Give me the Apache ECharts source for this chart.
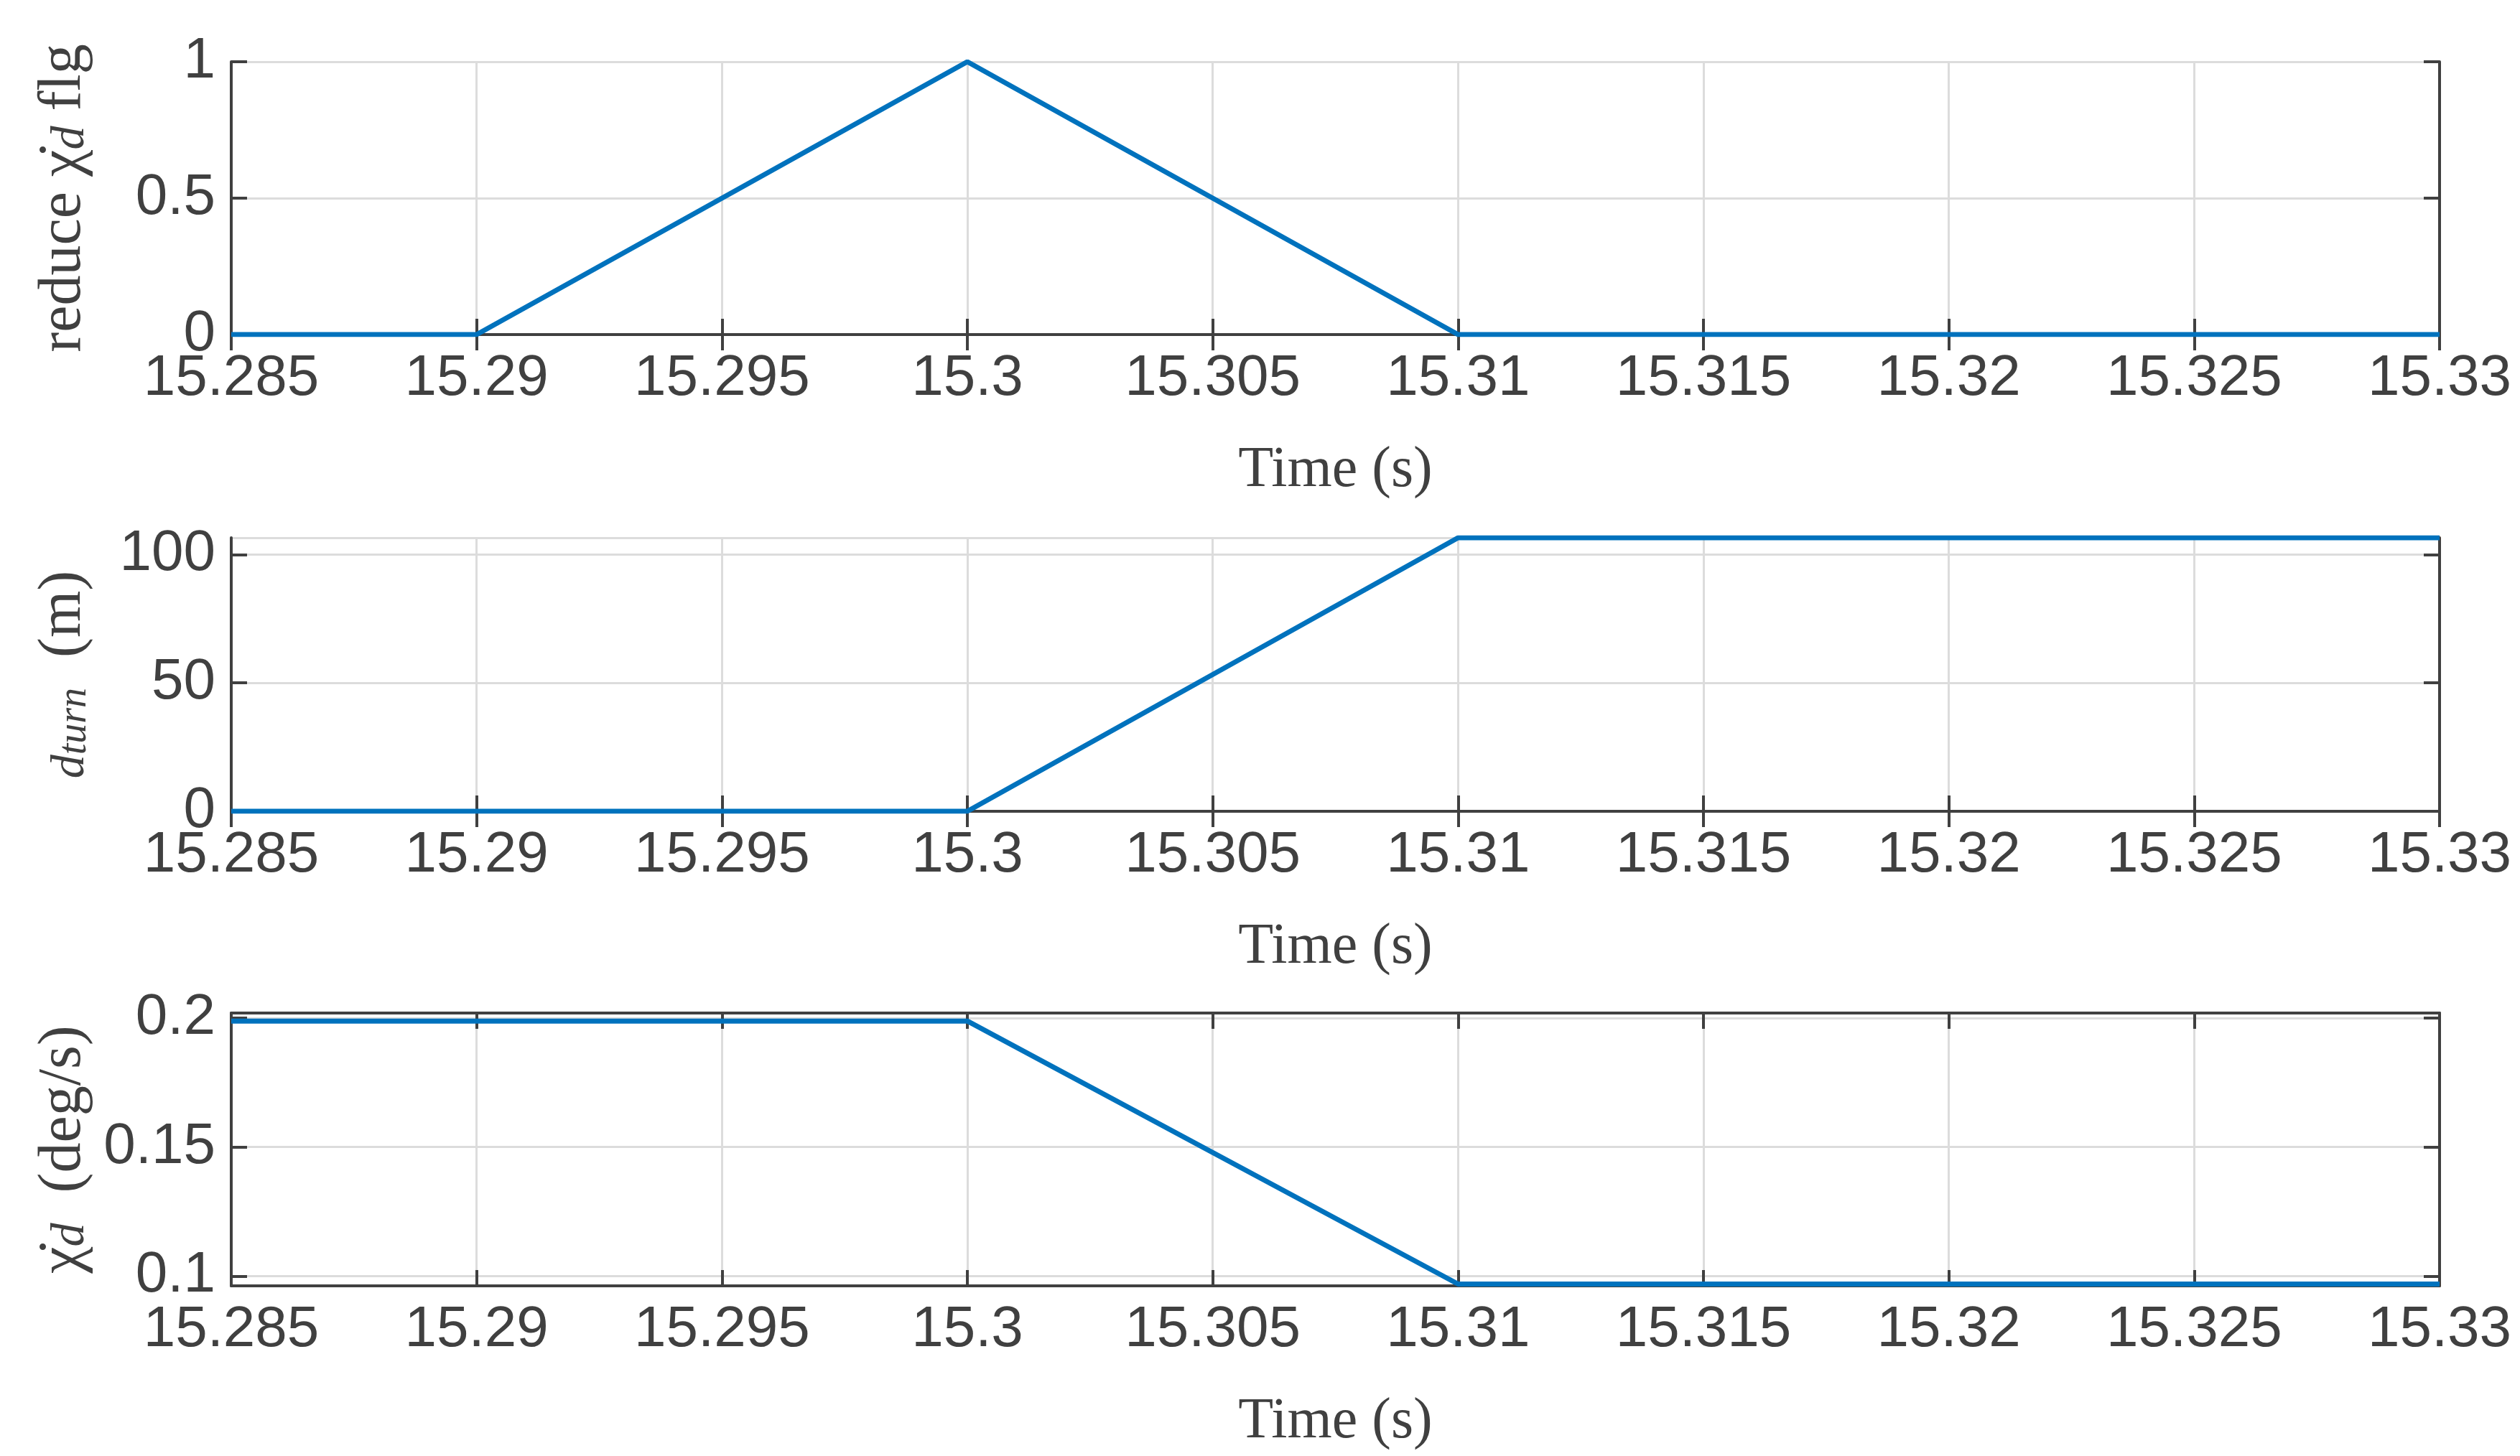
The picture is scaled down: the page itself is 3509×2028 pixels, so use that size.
<!DOCTYPE html>
<html>
<head>
<meta charset="utf-8">
<script src="https://cdn.jsdelivr.net/npm/echarts@6.0.0/dist/echarts.min.js"></script>
<style>
  html, body { margin: 0; padding: 0; background: #fff; }
  #chart { width: 3509px; height: 2028px; }
</style>
</head>
<body>
<div id="chart"></div>
<script>
// data
const timeFlg = [15.285, 15.29, 15.3, 15.31, 15.33];
const flgValues = [0, 0, 1, 0, 0];
const timeTurn = [15.285, 15.3, 15.31, 15.33];
const turnValues = [0, 0, 106.5, 106.5];
const timeChi = [15.285, 15.3, 15.31, 15.33];
const chiValues = [0.1988, 0.1988, 0.0969, 0.0969];

const xMin = 15.285, xMax = 15.33, xStep = 0.005;

const ink = '#404040';
const tickFont = 'Liberation Sans, Arial, sans-serif';
const mathFont = 'Liberation Serif, DejaVu Serif, serif';

const grids = [
  { left: 322, right: 112, top: 86, height: 380 },
  { left: 322, right: 112, top: 749, height: 381 },
  { left: 322, right: 112, top: 1411, height: 380 }
];

function pair(arrX, arrY) { return arrX.map((x, i) => [x, arrY[i]]); }

const xAxes = [], yAxes = [];
const yCfg = [
  { min: 0, max: 1, interval: 0.5, name: '{n|reduce χ̇}{s|d}{n| flg}', minL: true, maxL: true },
  { min: 0, max: 106.5, splitNumber: 2, name: '{s|d}{ss|turn}{n|  (m)}', minL: true, maxL: false },
  { min: 0.0962, max: 0.2019, splitNumber: 2, name: '{n|χ̇}{s|d}{n|  (deg/s)}', minL: false, maxL: false }
];

const frameLine = { show: true, lineStyle: { color: ink, width: 4 } };
const frameTick = { show: true, inside: true, length: 22, lineStyle: { color: ink, width: 4 } };

grids.forEach((g, i) => {
  xAxes.push({
    gridIndex: i, type: 'value', min: xMin, max: xMax, interval: xStep,
    position: 'bottom',
    axisLine: frameLine, axisTick: frameTick,
    splitLine: { show: true, lineStyle: { color: '#dcdcdc', width: 3 } },
    axisLabel: {
      color: ink, fontFamily: tickFont, fontSize: 80, margin: 22,
      formatter: v => String(+v.toFixed(3))
    },
    name: 'Time (s)', nameLocation: 'middle', nameGap: 150,
    nameTextStyle: { color: ink, fontFamily: mathFont, fontSize: 80 }
  });
  xAxes.push({
    gridIndex: i, type: 'value', min: xMin, max: xMax, interval: xStep,
    position: 'top',
    axisLine: frameLine, axisTick: frameTick,
    splitLine: { show: false }, axisLabel: { show: false }
  });
  const c = yCfg[i];
  const base = { gridIndex: i, type: 'value', min: c.min, max: c.max };
  if (c.interval) base.interval = c.interval; else base.splitNumber = c.splitNumber;
  yAxes.push(Object.assign({}, base, {
    position: 'left',
    axisLine: frameLine, axisTick: frameTick,
    splitLine: { show: true, lineStyle: { color: '#dcdcdc', width: 3 } },
    axisLabel: {
      color: ink, fontFamily: tickFont, fontSize: 80, margin: 22,
      showMinLabel: c.minL, showMaxLabel: c.maxL
    },
    name: c.name, nameLocation: 'middle', nameGap: 190, nameRotate: 90,
    nameTextStyle: {
      color: ink,
      rich: {
        n: { fontFamily: mathFont, fontSize: 84, color: ink },
        s: { fontFamily: mathFont, fontSize: 66, fontStyle: 'italic', color: ink, padding: [20, 0, 0, 0] },
        ss: { fontFamily: mathFont, fontSize: 56, fontStyle: 'italic', color: ink, padding: [30, 0, 0, 0] }
      }
    }
  }));
  yAxes.push(Object.assign({}, base, {
    position: 'right',
    axisLine: frameLine, axisTick: frameTick,
    splitLine: { show: false }, axisLabel: { show: false }
  }));
});

const series = [
  pair(timeFlg, flgValues),
  pair(timeTurn, turnValues),
  pair(timeChi, chiValues)
].map((d, i) => ({
  type: 'line', xAxisIndex: i * 2, yAxisIndex: i * 2, data: d,
  showSymbol: false, lineStyle: { color: '#0072BD', width: 7 }, z: 10
}));

const chart = echarts.init(document.getElementById('chart'));
chart.setOption({
  animation: false,
  backgroundColor: '#fff',
  grid: grids,
  xAxis: xAxes,
  yAxis: yAxes,
  series: series
});
</script>
</body>
</html>
